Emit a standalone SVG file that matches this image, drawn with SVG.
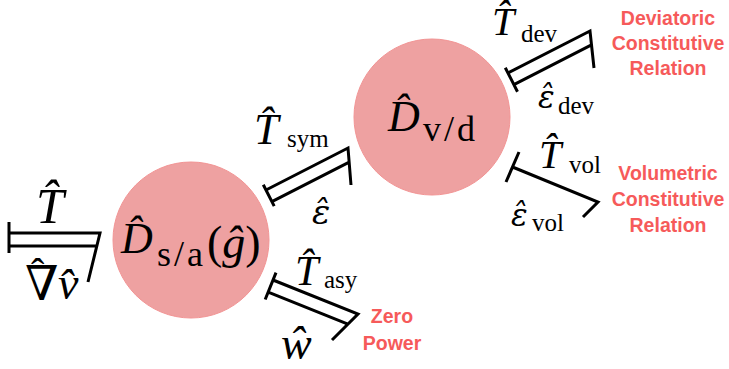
<svg xmlns="http://www.w3.org/2000/svg" width="729" height="369" viewBox="0 0 729 369">
<style>
.b{fill:none;stroke:#000;stroke-width:3;stroke-linecap:butt;stroke-linejoin:miter}
.n{fill:#EEA1A1;stroke:#F29494;stroke-width:1}
.m{font-family:"Liberation Serif","DejaVu Serif",serif;fill:#000}
.e{font-family:"DejaVu Serif",serif;font-style:italic}
.i{font-style:italic}
.r{font-family:"Liberation Sans",Arial,sans-serif;font-weight:bold;fill:#F65A5A;text-anchor:middle;font-size:19.5px}
</style>
<rect width="729" height="369" fill="#fff"/>
<g id="node-sa">
<circle class="n" cx="191" cy="240" r="78"/>
<text class="m"><tspan class="i" x="121" y="253" font-size="44">D̂</tspan><tspan x="157" y="266" font-size="36" letter-spacing="3">s/a</tspan><tspan x="207" y="258" font-size="46">(</tspan><tspan class="i" font-size="46">ĝ</tspan><tspan font-size="46">)</tspan></text>
</g>
<g id="node-vd">
<circle class="n" cx="432" cy="117" r="78"/>
<text class="m"><tspan class="i" x="388" y="131" font-size="44">D̂</tspan><tspan x="423" y="141" font-size="36" letter-spacing="3">v/d</tspan></text>
</g>
<g id="connectors">
<g id="bond-in">
<path class="b" d="M9,222V253M9,233H100L88,282M9,246H96.8"/>
<text class="m i" x="36" y="223" font-size="50">T̂</text>
<text class="m"><tspan x="25" y="300" font-size="48" style="font-family:'DejaVu Serif',serif">∇</tspan><tspan x="31" y="286" font-size="40">ˆ</tspan><tspan class="i" x="58" y="299" font-size="46">v̂</tspan></text>
</g>
<g id="bond-sym">
<path class="b" d="M263.3,184.7L274.2,206.1M266,190L348,148L351,185M271.9,201.6L349.2,162.2"/>
<text class="m"><tspan class="i" x="254" y="144" font-size="44">T̂</tspan><tspan x="287" y="147" font-size="25">sym</tspan></text>
<text class="m e" x="312" y="224" font-size="34">ε̂</text>
</g>
<g id="bond-asy">
<path class="b" d="M276,272.6L265.2,299.5M273,280L358,314L332,340M268.2,292.1L347.9,324.1"/>
<text class="m"><tspan class="i" x="295" y="285" font-size="42">T̂</tspan><tspan x="324" y="288" font-size="25">asy</tspan></text>
<text class="m i" x="281" y="359" font-size="46">ŵ</text>
</g>
<g id="bond-dev">
<path class="b" d="M505.3,67.7L517.5,91.7M508,73L590,31L594,68M513.9,84.6L591.5,44.8"/>
<text class="m"><tspan class="i" x="492" y="35" font-size="40">T̂</tspan><tspan x="521" y="42" font-size="25">dev</tspan></text>
<text class="m"><tspan class="e" x="538" y="108" font-size="31">ε̂</tspan><tspan x="558" y="114" font-size="25">dev</tspan></text>
</g>
<g id="bond-vol">
<path class="b" d="M519,152L506,182M512.5,167L598,202L583,217"/>
<text class="m"><tspan class="i" x="539" y="168" font-size="40">T̂</tspan><tspan x="569" y="173" font-size="25">vol</tspan></text>
<text class="m"><tspan class="e" x="511" y="226" font-size="31">ε̂</tspan><tspan x="532" y="231" font-size="25">vol</tspan></text>
</g>
</g>
<g id="labels">
<text class="r"><tspan x="668" y="25">Deviatoric</tspan><tspan x="668" y="50">Constitutive</tspan><tspan x="668" y="75">Relation</tspan></text>
<text class="r"><tspan x="668" y="180">Volumetric</tspan><tspan x="668" y="206">Constitutive</tspan><tspan x="668" y="232">Relation</tspan></text>
<text class="r"><tspan x="392" y="323">Zero</tspan><tspan x="392" y="350">Power</tspan></text>
</g>
</svg>
